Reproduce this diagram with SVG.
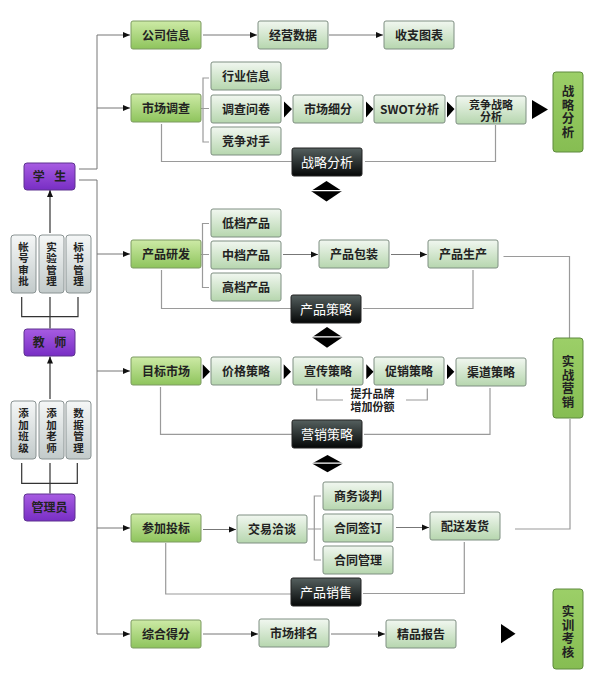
<svg xmlns="http://www.w3.org/2000/svg" width="599" height="675" viewBox="0 0 599 675">
<defs>
<linearGradient id="gG" x1="0" y1="0" x2="0" y2="1"><stop offset="0" stop-color="#cdeaa6"/><stop offset="1" stop-color="#8ec45c"/></linearGradient>
<linearGradient id="gL" x1="0" y1="0" x2="0" y2="1"><stop offset="0" stop-color="#f1f7f0"/><stop offset="1" stop-color="#b6d6ae"/></linearGradient>
<linearGradient id="gP" x1="0" y1="0" x2="0" y2="1"><stop offset="0" stop-color="#a75ce2"/><stop offset="1" stop-color="#782ec4"/></linearGradient>
<linearGradient id="gK" x1="0" y1="0" x2="0" y2="1"><stop offset="0" stop-color="#55605f"/><stop offset="1" stop-color="#050707"/></linearGradient>
<linearGradient id="gS" x1="0" y1="0" x2="0" y2="1"><stop offset="0" stop-color="#f5f7f7"/><stop offset="1" stop-color="#c2caca"/></linearGradient>
<linearGradient id="gR" x1="0" y1="0" x2="0" y2="1"><stop offset="0" stop-color="#9ccf68"/><stop offset="1" stop-color="#86bd52"/></linearGradient>
<marker id="ar" markerWidth="7" markerHeight="7" refX="7" refY="3.5" orient="auto" markerUnits="userSpaceOnUse"><path d="M0,0.5 L7,3.5 L0,6.5 z" fill="#111"/></marker>
</defs>
<style>
text{font-family:"Noto Sans CJK SC","Noto Sans",sans-serif;font-weight:bold;font-size:12px;fill:#222;text-anchor:middle}
.g{fill:url(#gG);stroke:#7d9a62;stroke-width:1}
.l{fill:url(#gL);stroke:#7f8f82;stroke-width:1}
.p{fill:url(#gP);stroke:#5e3390;stroke-width:1}
.k{fill:url(#gK);stroke:#222;stroke-width:1}
.s{fill:url(#gS);stroke:#8a9393;stroke-width:1}
.r{fill:url(#gR);stroke:#5e8a3e;stroke-width:1}
.wt{fill:#fff;font-size:13px;font-weight:normal}
.vt{font-size:10.5px;writing-mode:vertical-rl;letter-spacing:1px}
.rt{font-size:12.5px;writing-mode:vertical-rl;letter-spacing:1px}
.tl{font-size:11px}
.c{fill:none;stroke:#777;stroke-width:1}
.c2{fill:none;stroke:#9a9a9a;stroke-width:1.2}
.c3{fill:none;stroke:#333;stroke-width:1.2}
.a{marker-end:url(#ar)}
.t{fill:#000}
</style>
<rect width="599" height="675" fill="#fff"/>
<g id="connectors">
<path class="c a" d="M79,169 H97 V35 H130"/>
<path class="c a" d="M97,108 H130"/>
<path class="c a" d="M79,180 H97 V634 H130"/>
<path class="c a" d="M97,254 H130"/>
<path class="c a" d="M97,371 H130"/>
<path class="c a" d="M97,528 H130"/>
<path class="c a" d="M203,35 H257"/>
<path class="c a" d="M329,35 H383"/>
<path class="c2" d="M209,78 H203 V142 H209 M201,108.5 H209"/>
<path class="c2" d="M161.5,124 V161.5 H292 M365,161.5 H495.5 V125"/>
<path class="t" d="M284,101.5 L292,109 L284,117.5 z M366,101.5 L373.5,109 L366,117.5 z M447,101.5 L454.5,109 L447,117.5 z M532,100 L548,109.5 L532,119 z"/>
<path class="c2" d="M209,223.5 H202.5 V287.5 H209 M201,254.5 H209"/>
<path class="c a" d="M283,254.5 H318"/>
<path class="c a" d="M391,254.5 H427"/>
<path class="c2" d="M503.5,256.5 H569.5 V338"/>
<path class="c2" d="M161.5,270 V308.5 H291 M363,308.5 H473 V270"/>
<path class="t" d="M202.7,364.3 L210,371.8 L202.7,379.3 z M283.7,364.3 L291,371.8 L283.7,379.3 z M366.3,364.3 L373.5,371.8 L366.3,379.3 z M447,364.3 L454.3,371.8 L447,379.3 z"/>
<path class="c2" d="M316.7,388.5 V400 H343 M406,400 H427.3 V388.5"/>
<path class="c2" d="M160.5,387 V434.3 H292 M364,434.3 H490 V388"/>
<path class="c2" d="M570,419 V529 H515"/>
<path class="c a" d="M203,529.5 H236"/>
<path class="c2" d="M321,496 H314.3 V560 H321 M308,529 H321"/>
<path class="c a" d="M396,527.5 H429"/>
<path class="c2" d="M464.3,542 V593.5 H363"/>
<path class="c2" d="M165.7,543 V594 H291"/>
<path class="c a" d="M203,634 H258"/>
<path class="c a" d="M331,634 H385"/>
<path class="t" d="M501,624 L515.5,633.7 L501,643.3 z"/>
<path class="c3 a" d="M50,233 V190"/>
<path class="c3" d="M21.7,297 V316.7 H78 V297 M50,297 V328.5"/>
<path class="c3 a" d="M50,399 V356.5"/>
<path class="c3" d="M21.7,463 V483.3 H77.3 V463 M50,463 V493.5"/>
<g id="diamonds">
<path class="t" d="M311,191 L326.5,181 L342,191 L326.5,201.5 z"/>
<line x1="310" y1="190.6" x2="343" y2="190.6" stroke="#fff" stroke-width="1.2"/>
<path class="t" d="M312,337.3 L327,327 L342.5,337.3 L327,347.7 z"/>
<line x1="311" y1="336.9" x2="344" y2="336.9" stroke="#fff" stroke-width="1.2"/>
<path class="t" d="M312,463.6 L327.5,455 L343,463.6 L327.5,472.3 z"/>
<line x1="311" y1="463.2" x2="344" y2="463.2" stroke="#fff" stroke-width="1.2"/>
</g>
</g>
<g id="n-xuesheng"><rect class="p" x="24" y="163" width="51" height="27" rx="3"/><text x="49.5" y="181" word-spacing="7">学 生</text></g>
<g id="n-jiaoshi"><rect class="p" x="24" y="329" width="51" height="27" rx="3"/><text x="49.5" y="347" word-spacing="7">教 师</text></g>
<g id="n-guanliyuan"><rect class="p" x="24" y="494" width="51" height="27" rx="3"/><text x="49.5" y="512">管理员</text></g>
<g id="n-zhanghao"><rect class="s" x="11" y="235" width="25" height="58" rx="3"/><text class="vt" x="23.5" y="264.5">帐号审批</text></g>
<g id="n-shiyan"><rect class="s" x="39" y="235" width="25" height="58" rx="3"/><text class="vt" x="51.5" y="264.5">实验管理</text></g>
<g id="n-biaoshu"><rect class="s" x="66" y="235" width="25" height="58" rx="3"/><text class="vt" x="78.5" y="264.5">标书管理</text></g>
<g id="n-banji"><rect class="s" x="11" y="401" width="25" height="58" rx="3"/><text class="vt" x="23.5" y="431">添加班级</text></g>
<g id="n-laoshi"><rect class="s" x="39" y="401" width="25" height="58" rx="3"/><text class="vt" x="51.5" y="431">添加老师</text></g>
<g id="n-shuju"><rect class="s" x="66" y="401" width="25" height="58" rx="3"/><text class="vt" x="78.5" y="431">数据管理</text></g>
<g id="n-gongsi"><rect class="g" x="131" y="21" width="70" height="28" rx="2"/><text x="166" y="39.6">公司信息</text></g>
<g id="n-jingying"><rect class="l" x="258" y="21" width="70" height="28" rx="2"/><text x="293" y="39.6">经营数据</text></g>
<g id="n-shouzhi"><rect class="l" x="384" y="21" width="70" height="28" rx="2"/><text x="419" y="39.6">收支图表</text></g>
<g id="n-shichangdiaocha"><rect class="g" x="131" y="94" width="70" height="28" rx="2"/><text x="166" y="112.6">市场调查</text></g>
<g id="n-hangye"><rect class="l" x="211" y="62" width="70" height="28" rx="2"/><text x="246" y="80.6">行业信息</text></g>
<g id="n-wenjuan"><rect class="l" x="211" y="95" width="70" height="28" rx="2"/><text x="246" y="113.6">调查问卷</text></g>
<g id="n-duishou"><rect class="l" x="211" y="127" width="70" height="28" rx="2"/><text x="246" y="145.6">竞争对手</text></g>
<g id="n-xifen"><rect class="l" x="293" y="95" width="70" height="28" rx="2"/><text x="328" y="113.6">市场细分</text></g>
<g id="n-swot"><rect class="l" x="374" y="95" width="71" height="28" rx="2"/><text x="409.5" y="113.6">SWOT分析</text></g>
<g id="n-jingzheng"><rect class="l" x="456" y="96" width="70" height="28" rx="2"/><text class="tl" x="491"><tspan x="491" y="108.5">竞争战略</tspan><tspan x="491" y="120.5">分析</tspan></text></g>
<g id="n-zhanlue-k"><rect class="k" x="292" y="148" width="70" height="28" rx="2"/><text class="wt" x="327" y="166.8">战略分析</text></g>
<g id="n-zhanlue-r"><rect class="r" x="553" y="72" width="30" height="80" rx="3"/><text class="rt" x="568" y="112">战略分析</text></g>
<g id="n-yanfa"><rect class="g" x="131" y="240" width="70" height="28" rx="2"/><text x="166" y="258.6">产品研发</text></g>
<g id="n-didang"><rect class="l" x="211" y="209" width="70" height="28" rx="2"/><text x="246" y="227.6">低档产品</text></g>
<g id="n-zhongdang"><rect class="l" x="211" y="241" width="70" height="28" rx="2"/><text x="246" y="259.6">中档产品</text></g>
<g id="n-gaodang"><rect class="l" x="211" y="273" width="70" height="28" rx="2"/><text x="246" y="291.6">高档产品</text></g>
<g id="n-baozhuang"><rect class="l" x="319" y="240" width="70" height="28" rx="2"/><text x="354" y="258.6">产品包装</text></g>
<g id="n-shengchan"><rect class="l" x="428" y="240" width="70" height="28" rx="2"/><text x="463" y="258.6">产品生产</text></g>
<g id="n-celue-k"><rect class="k" x="291" y="295" width="70" height="28" rx="2"/><text class="wt" x="326" y="313.8">产品策略</text></g>
<g id="n-mubiao"><rect class="g" x="131" y="357" width="70" height="28" rx="2"/><text x="166" y="375.6">目标市场</text></g>
<g id="n-jiage"><rect class="l" x="211" y="357" width="70" height="28" rx="2"/><text x="246" y="375.6">价格策略</text></g>
<g id="n-xuanchuan"><rect class="l" x="293" y="357" width="70" height="28" rx="2"/><text x="328" y="375.6">宣传策略</text></g>
<g id="n-cuxiao"><rect class="l" x="374" y="357" width="70" height="28" rx="2"/><text x="409" y="375.6">促销策略</text></g>
<g id="n-qudao"><rect class="l" x="456" y="358" width="70" height="28" rx="2"/><text x="491" y="376.6">渠道策略</text></g>
<g id="n-tisheng"><text class="tl" x="372.5"><tspan x="372.5" y="398">提升品牌</tspan><tspan x="372.5" y="410.5">增加份额</tspan></text></g>
<g id="n-yingxiao-k"><rect class="k" x="292" y="420" width="70" height="28" rx="2"/><text class="wt" x="327" y="438.8">营销策略</text></g>
<g id="n-shizhan"><rect class="r" x="553" y="338" width="30" height="80" rx="3"/><text class="rt" x="568" y="382">实战营销</text></g>
<g id="n-toubiao"><rect class="g" x="131" y="514" width="70" height="28" rx="2"/><text x="166" y="532.6">参加投标</text></g>
<g id="n-jiaoyi"><rect class="l" x="237" y="515" width="70" height="28" rx="2"/><text x="272" y="533.6">交易洽谈</text></g>
<g id="n-shangwu"><rect class="l" x="323" y="482" width="70" height="28" rx="2"/><text x="358" y="500.6">商务谈判</text></g>
<g id="n-qianding"><rect class="l" x="323" y="514" width="70" height="28" rx="2"/><text x="358" y="532.6">合同签订</text></g>
<g id="n-guanli"><rect class="l" x="323" y="546" width="70" height="28" rx="2"/><text x="358" y="564.6">合同管理</text></g>
<g id="n-peisong"><rect class="l" x="430" y="512" width="70" height="28" rx="2"/><text x="465" y="530.6">配送发货</text></g>
<g id="n-xiaoshou-k"><rect class="k" x="291" y="578" width="70" height="28" rx="2"/><text class="wt" x="326" y="596.8">产品销售</text></g>
<g id="n-zonghe"><rect class="g" x="131" y="620" width="70" height="28" rx="2"/><text x="166" y="638.6">综合得分</text></g>
<g id="n-paiming"><rect class="l" x="259" y="619" width="70" height="28" rx="2"/><text x="294" y="637.6">市场排名</text></g>
<g id="n-jingpin"><rect class="l" x="386" y="620" width="70" height="28" rx="2"/><text x="421" y="638.6">精品报告</text></g>
<g id="n-shixun"><rect class="r" x="553" y="589" width="30" height="80" rx="3"/><text class="rt" x="568" y="632">实训考核</text></g>
</svg>
